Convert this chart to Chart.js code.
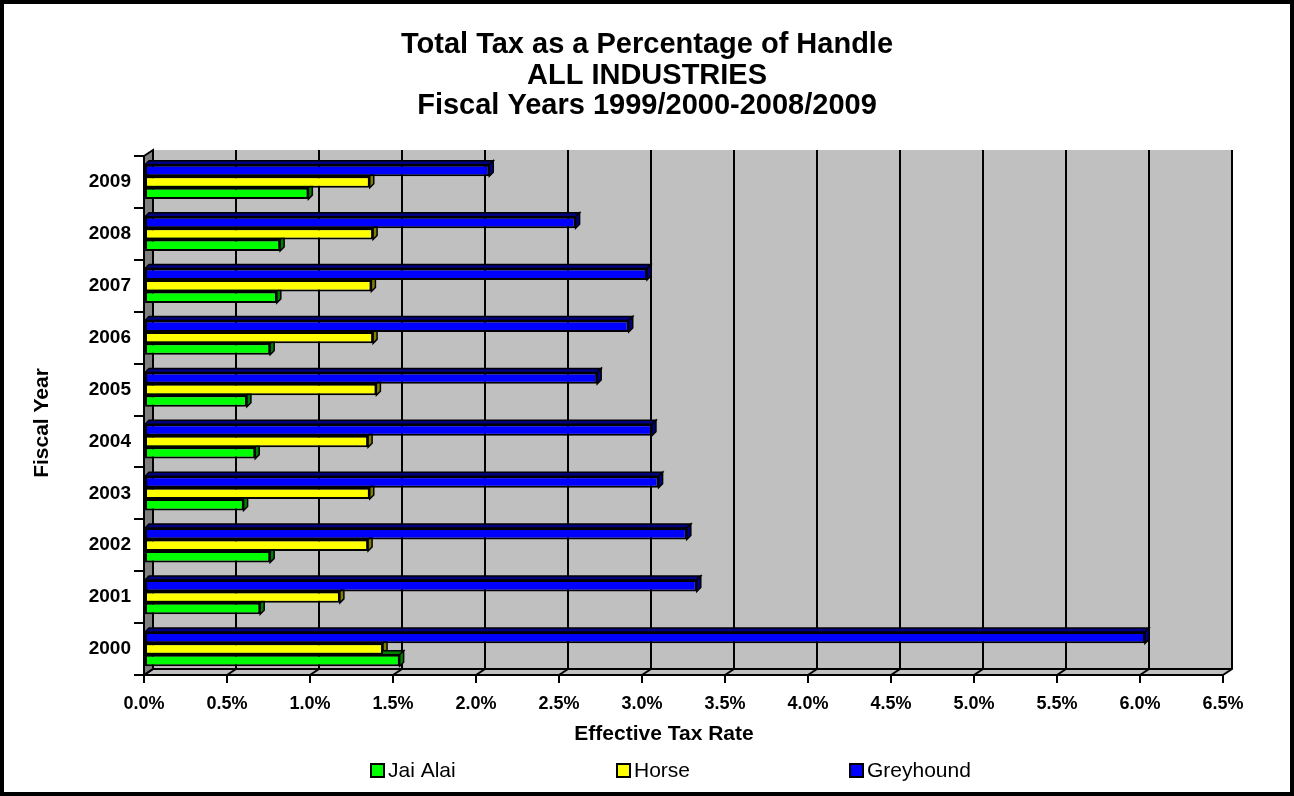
<!DOCTYPE html>
<html>
<head>
<meta charset="utf-8">
<script src="https://cdn.jsdelivr.net/npm/chart.js@4.4.1/dist/chart.umd.min.js"></script>
<style>
html,body{margin:0;padding:0;background:#fff;overflow:hidden}
canvas{display:block}
</style>
</head>
<body>
<canvas id="c" width="1294" height="796" style="width:1294px;height:796px"></canvas>
<script>
// ---- data ----
const years = ['2000','2001','2002','2003','2004','2005','2006','2007','2008','2009'];
const jaiAlai   = [1.54, 0.70, 0.76, 0.60, 0.67, 0.62, 0.76, 0.80, 0.82, 0.99];
const horse     = [1.44, 1.18, 1.35, 1.36, 1.35, 1.40, 1.38, 1.37, 1.38, 1.36];
const greyhound = [6.03, 3.33, 3.27, 3.10, 3.06, 2.73, 2.92, 3.03, 2.60, 2.08];
const xTickLabels = ['0.0%','0.5%','1.0%','1.5%','2.0%','2.5%','3.0%','3.5%','4.0%','4.5%','5.0%','5.5%','6.0%','6.5%'];
const titleLines = ['Total Tax as a Percentage of Handle','ALL INDUSTRIES','Fiscal Years 1999/2000-2008/2009'];
const seriesNames = ['Jai Alai','Horse','Greyhound'];
const xAxisTitle = 'Effective Tax Rate';
const yAxisTitle = 'Fiscal Year';

const FONT = '"Liberation Sans", Arial, sans-serif';
Chart.defaults.font.family = FONT;
Chart.defaults.color = '#000';

// categories shown top (2009) to bottom (2000)
const labelsTopDown = years.slice().reverse();
const rev = a => a.slice().reverse();

const D = {dx: 9, dy: -6};

const wallPlugin = {
  id: 'walls',
  beforeDraw(chart) {
    const {ctx, chartArea: a, scales: {x}} = chart;
    ctx.save();
    ctx.fillStyle = '#fff';
    ctx.fillRect(0, 0, chart.width, chart.height);
    ctx.fillStyle = '#c0c0c0';
    ctx.fillRect(a.left + D.dx, a.top + D.dy, a.right - a.left, a.bottom - a.top);
    ctx.beginPath();
    ctx.moveTo(a.left, a.bottom);
    ctx.lineTo(a.left + D.dx, a.bottom + D.dy);
    ctx.lineTo(a.right + D.dx, a.bottom + D.dy);
    ctx.lineTo(a.right, a.bottom);
    ctx.closePath();
    ctx.fill();
    ctx.strokeStyle = '#000';
    ctx.lineWidth = 2;
    ctx.fillStyle = '#808080';
    ctx.beginPath();
    ctx.moveTo(a.left, a.top);
    ctx.lineTo(a.left + D.dx, a.top + D.dy);
    ctx.lineTo(a.left + D.dx, a.bottom + D.dy);
    ctx.lineTo(a.left, a.bottom);
    ctx.closePath();
    ctx.fill();
    ctx.stroke();
    x.ticks.forEach(t => {
      const px = x.getPixelForValue(t.value);
      ctx.beginPath();
      ctx.moveTo(px + D.dx, a.top + D.dy);
      ctx.lineTo(px + D.dx, a.bottom + D.dy);
      ctx.lineTo(px, a.bottom);
      ctx.stroke();
    });
    ctx.beginPath();
    ctx.moveTo(a.left + D.dx, a.bottom + D.dy);
    ctx.lineTo(a.right + D.dx, a.bottom + D.dy);
    ctx.stroke();
    ctx.restore();
  }
};

const bar3dPlugin = {
  id: 'bar3d',
  beforeDatasetsDraw(chart) {
    const ctx = chart.ctx;
    const d = 4, e = -4;
    ctx.save();
    ctx.strokeStyle = '#000';
    ctx.lineWidth = 1.5;
    chart.data.datasets.forEach((ds, i) => {
      const meta = chart.getDatasetMeta(i);
      meta.data.forEach(bar => {
        const p = bar.getProps(['x','y','base','height'], true);
        const top = p.y - p.height / 2, bot = p.y + p.height / 2;
        ctx.fillStyle = ds.sideColor;
        ctx.beginPath();
        ctx.moveTo(p.base, top);
        ctx.lineTo(p.base + d, top + e);
        ctx.lineTo(p.x + d, top + e);
        ctx.lineTo(p.x, top);
        ctx.closePath();
        ctx.fill(); ctx.stroke();
        ctx.beginPath();
        ctx.moveTo(p.x, top);
        ctx.lineTo(p.x + d, top + e);
        ctx.lineTo(p.x + d, bot + e);
        ctx.lineTo(p.x, bot);
        ctx.closePath();
        ctx.fill(); ctx.stroke();
      });
    });
    ctx.restore();
  }
};

const textPlugin = {
  id: 'texts',
  afterDraw(chart) {
    const ctx = chart.ctx;
    ctx.save();
    ctx.fillStyle = '#000';
    // main title
    ctx.font = 'bold 29px ' + FONT;
    ctx.textAlign = 'center';
    ctx.textBaseline = 'middle';
    const titleY = [45, 76, 106];
    titleLines.forEach((t, i) => ctx.fillText(t, 647, titleY[i]));
    // x axis title
    ctx.font = 'bold 21px ' + FONT;
    ctx.fillText(xAxisTitle, 664, 734);
    // y axis title
    ctx.save();
    ctx.translate(42, 423);
    ctx.rotate(-Math.PI / 2);
    ctx.fillText(yAxisTitle, 0, 0);
    ctx.restore();
    // legend
    const items = chart.data.datasets.slice().reverse();
    const xs = [371, 617, 850];
    const y = 770;
    ctx.font = '21px ' + FONT;
    ctx.textAlign = 'left';
    items.forEach((ds, i) => {
      ctx.fillStyle = ds.backgroundColor;
      ctx.fillRect(xs[i], y - 6, 13, 13);
      ctx.strokeStyle = '#000';
      ctx.lineWidth = 2;
      ctx.strokeRect(xs[i], y - 6, 13, 13);
      ctx.fillStyle = '#000';
      ctx.fillText(ds.label, xs[i] + 17, y + 1);
    });
    // outer frame
    ctx.lineWidth = 4;
    ctx.strokeStyle = '#000';
    ctx.strokeRect(2, 2, chart.width - 4, chart.height - 4);
    ctx.restore();
  }
};

new Chart(document.getElementById('c'), {
  type: 'bar',
  data: {
    labels: labelsTopDown,
    datasets: [
      {label: seriesNames[2], data: rev(greyhound), backgroundColor: '#0000ff', sideColor: '#000080'},
      {label: seriesNames[1], data: rev(horse),     backgroundColor: '#ffff00', sideColor: '#808000'},
      {label: seriesNames[0], data: rev(jaiAlai),   backgroundColor: '#00ff00', sideColor: '#008000'}
    ]
  },
  options: {
    indexAxis: 'y',
    responsive: false,
    animation: false,
    devicePixelRatio: 1,
    datasets: {bar: {borderColor: '#000', borderWidth: 2, borderSkipped: false, categoryPercentage: 0.66, barPercentage: 1.0}},
    layout: {padding: {left: 0, right: 71, top: 156, bottom: 50}},
    plugins: {
      legend: {display: false},
      tooltip: {enabled: false},
      title: {display: false}
    },
    scales: {
      x: {
        min: 0, max: 6.5,
        afterFit: s => { s.height = 71; },
        ticks: {stepSize: 0.5, padding: 10, font: {size: 18, weight: 'bold'}, color: '#000',
                callback: (v, i) => xTickLabels[i]},
        grid: {drawOnChartArea: false, drawTicks: true, tickLength: 8, color: '#000', lineWidth: 2},
        border: {display: true, color: '#000', width: 2}
      },
      y: {
        afterFit: s => { s.width = 144; },
        ticks: {padding: 3, font: {size: 19, weight: 'bold'}, color: '#000'},
        grid: {drawOnChartArea: false, drawTicks: true, tickLength: 10, color: '#000', lineWidth: 2},
        border: {display: true, color: '#000', width: 2}
      }
    }
  },
  plugins: [wallPlugin, bar3dPlugin, textPlugin]
});
</script>
</body>
</html>
